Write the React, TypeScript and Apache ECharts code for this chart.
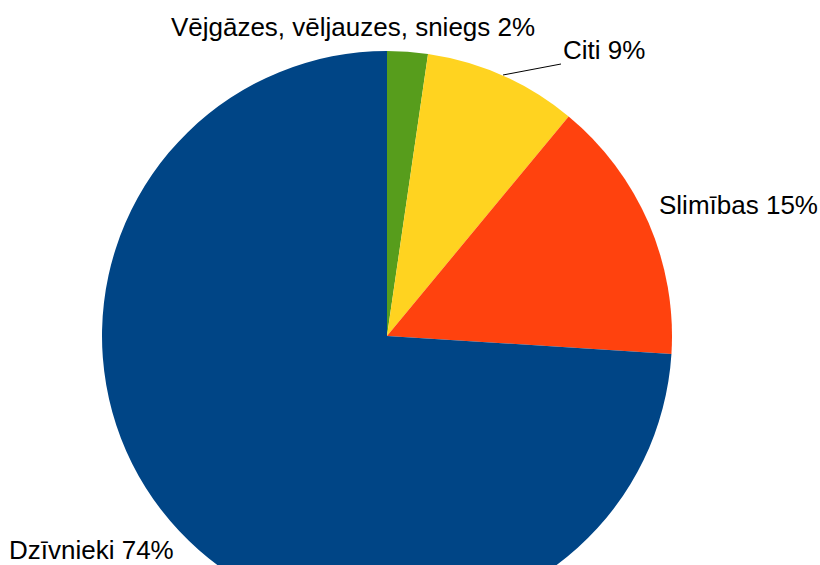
import React, { useEffect, useRef } from "react";
import * as echarts from "echarts";

const categories = ["Vējgāzes, vēljauzes, sniegs", "Citi", "Slimības", "Dzīvnieki"];
const values = [2.3, 8.7, 15.0, 74.0];
const colors = ["#579D1C", "#FFD320", "#FF420E", "#004586"];

// label placement (style only)
const labelPos: { x: number; y: number; align: string; line?: number[][] }[] = [
  { x: 353, y: 27, align: "center" },
  { x: 563, y: 50, align: "left", line: [[503, 75], [561, 64]] },
  { x: 659, y: 205, align: "left" },
  { x: 9, y: 550, align: "left" },
];

export default function App() {
  const ref = useRef<HTMLDivElement>(null);
  useEffect(() => {
    document.body.style.margin = "0";
    const chart = echarts.init(ref.current!, null, { renderer: "svg" });
    chart.setOption({
      animation: false,
      backgroundColor: "#ffffff",
      series: [
        {
          type: "pie",
          center: [387, 336],
          radius: 285,
          startAngle: 90,
          clockwise: true,
          avoidLabelOverlap: false,
          itemStyle: { borderWidth: 0 },
          emphasis: { disabled: true },
          label: {
            show: true,
            fontFamily: "Liberation Sans",
            fontSize: 26,
            lineHeight: 26,
            color: "#000000",
            formatter: (p: any) => `${p.name} ${Math.round(p.percent)}%`,
          },
          labelLine: { show: false, lineStyle: { color: "#000000", width: 1 } },
          labelLayout: (params: any) => {
            const lp = labelPos[params.dataIndex];
            const res: any = { x: lp.x, y: lp.y, align: lp.align, verticalAlign: "middle" };
            if (lp.line) res.labelLinePoints = lp.line.concat([lp.line[1]]);
            return res;
          },
          data: categories.map((name, i) => ({
            name,
            value: values[i],
            itemStyle: { color: colors[i] },
            labelLine: { show: !!labelPos[i].line },
          })),
        },
      ],
    });
    return () => chart.dispose();
  }, []);
  return <div ref={ref} style={{ position: "fixed", left: 0, top: 0, width: 820, height: 565 }} />;
}
